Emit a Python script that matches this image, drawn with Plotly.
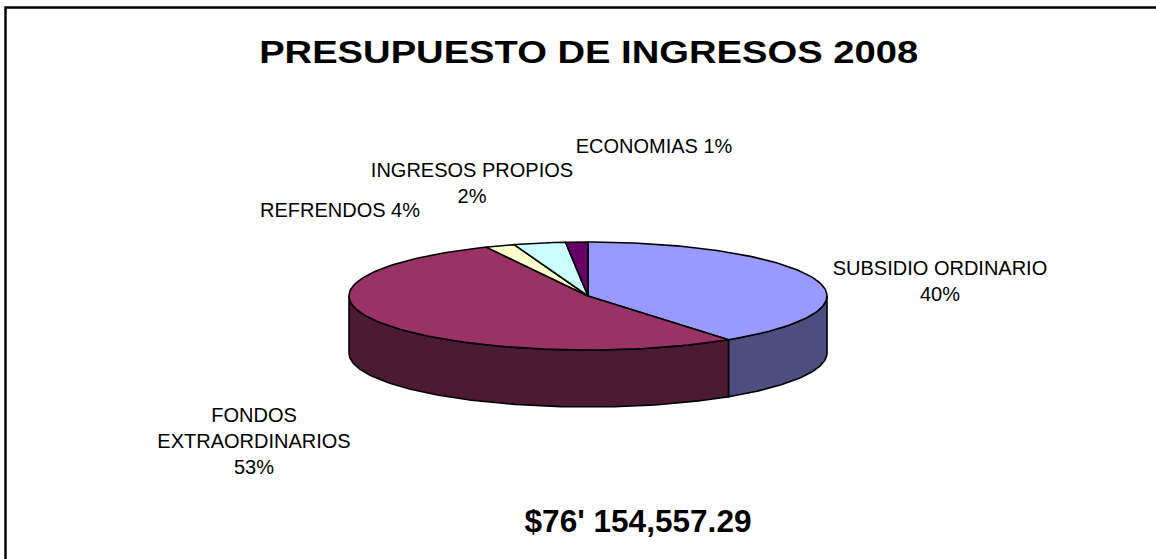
import numpy as np
import plotly.graph_objects as go

categories = ["SUBSIDIO ORDINARIO", "FONDOS EXTRAORDINARIOS", "INGRESOS PROPIOS", "REFRENDOS", "ECONOMIAS"]
values = [40.0, 53.0, 2.0, 3.5, 1.5]
top_colors = ["#9999FF", "#993366", "#FFFFCC", "#CCFFFF", "#660066"]
side_colors = ["#4D4D80", "#4D1A33", "#80806A", "#6A8080", "#330033"]
labels = [
    "SUBSIDIO ORDINARIO<br>40%",
    "FONDOS<br>EXTRAORDINARIOS<br>53%",
    "INGRESOS PROPIOS<br>2%",
    "REFRENDOS 4%",
    "ECONOMIAS 1%",
]
label_x = [940, 254, 472, 340, 654]
label_y = [283, 443, 185, 212, 148]
title_text = "PRESUPUESTO DE INGRESOS 2008"
total_text = "$76' 154,557.29"

W, H = 1156, 559
CX, CY, RX, RY, DEPTH = 588, 296, 239, 54, 57


def ellipse(a, dy=0):
    a = np.radians(a)
    return CX + RX * np.sin(a), CY - RY * np.cos(a) + dy


fig = go.Figure()
cum = np.concatenate([[0], np.cumsum(values)]) / sum(values) * 360
line = dict(color="black", width=1.6)

# Front walls
for i in range(len(values)):
    a0, a1 = max(cum[i], 90), min(cum[i + 1], 270)
    if a1 <= a0:
        continue
    a = np.linspace(a0, a1, 90)
    xt, yt = ellipse(a)
    xb, yb = ellipse(a[::-1], DEPTH)
    fig.add_trace(go.Scatter(x=np.r_[xt, xb, xt[0]], y=np.r_[yt, yb, yt[0]], mode="lines",
                             fill="toself", fillcolor=side_colors[i], line=line,
                             hoverinfo="skip", showlegend=False))
# Top faces
for i, name in enumerate(categories):
    a = np.linspace(cum[i], cum[i + 1], 120)
    xt, yt = ellipse(a)
    fig.add_trace(go.Scatter(x=np.r_[CX, xt, CX], y=np.r_[CY, yt, CY], mode="lines",
                             fill="toself", fillcolor=top_colors[i], line=line,
                             name=name, showlegend=False))

fig.add_trace(go.Scatter(x=label_x, y=label_y, mode="text", text=labels,
                         textfont=dict(family="Liberation Sans", size=20, color="black"),
                         textposition="middle center", hoverinfo="skip", showlegend=False))

fig.add_annotation(x=588, y=52, text=title_text, showarrow=False,
                   font=dict(family="Liberation Sans", size=31, color="black", weight="bold"))
fig.add_annotation(x=638, y=521, text=total_text, showarrow=False,
                   font=dict(family="Liberation Sans", size=32, color="black", weight="bold"))

fig.add_shape(type="rect", x0=5.5, y0=7.5, x1=1160, y1=565, line=dict(color="black", width=2.4),
              fillcolor="rgba(0,0,0,0)", layer="below")

fig.update_layout(
    width=W, height=H, margin=dict(l=0, r=0, t=0, b=0),
    paper_bgcolor="white", plot_bgcolor="white",
    xaxis=dict(range=[0, W], visible=False, fixedrange=True),
    yaxis=dict(range=[H, 0], visible=False, fixedrange=True),
)

post = """
document.body.style.margin = '0';
var t = document.querySelectorAll('.annotation-text');
if (t.length > 1) {
  t[0].setAttribute('textLength', '659');
  t[0].setAttribute('lengthAdjust', 'spacingAndGlyphs');
  t[1].setAttribute('textLength', '227');
  t[1].setAttribute('lengthAdjust', 'spacingAndGlyphs');
}
"""
fig.write_html("out.html", config={"displayModeBar": False}, post_script=post)
